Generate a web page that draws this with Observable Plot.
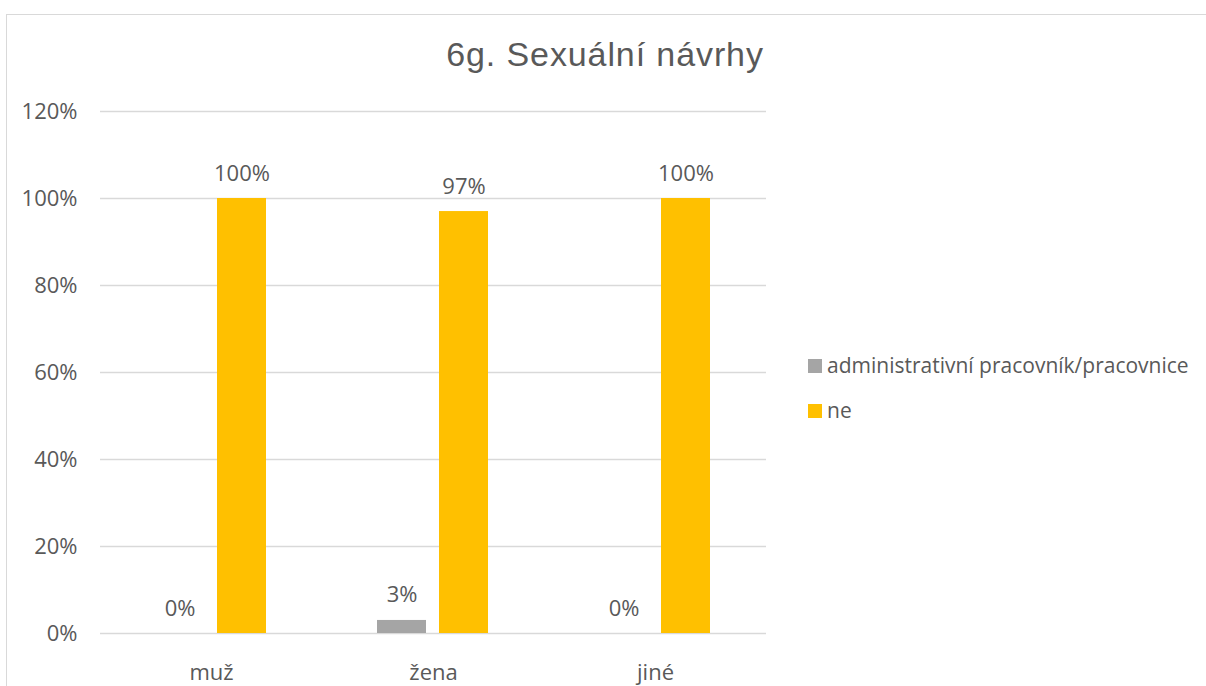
<!DOCTYPE html>
<html>
<head>
<meta charset="utf-8">
<script src="https://cdn.jsdelivr.net/npm/d3@7"></script>
<script src="https://cdn.jsdelivr.net/npm/@observablehq/plot@0.6"></script>
<style>
  html, body { margin: 0; padding: 0; background: #fff; overflow: hidden; }
  #wrap { position: relative; width: 1206px; height: 686px; overflow: hidden; }
  #frame { position: absolute; left: 6px; top: 14px; width: 1400px; height: 900px; border: 1.5px solid #D9D9D9; box-sizing: border-box; }
  #chart { position: absolute; left: 0; top: 0; }
  #overlay { position: absolute; left: 0; top: 0; pointer-events: none; }
</style>
</head>
<body>
<div id="wrap">
  <div id="frame"></div>
  <div id="chart"></div>
  <svg id="overlay" width="1206" height="686"></svg>
</div>
<script>
const title = "6g. Sexuální návrhy";
const categories = ["muž", "žena", "jiné"];
const series = ["administrativní pracovník/pracovnice", "ne"];
const colors = ["#A5A5A5", "#FFC000"];
const adminValues = [0, 0.03, 0];
const neValues = [1.00, 0.97, 1.00];
const yTicks = [0, 0.2, 0.4, 0.6, 0.8, 1.0, 1.2];

const data = [];
categories.forEach((c, i) => {
  data.push({cat: c, series: series[0], value: adminValues[i]});
  data.push({cat: c, series: series[1], value: neValues[i]});
});

const pct = d3.format(".0%");
const FONT = "Open Sans, sans-serif";
const TXT = "#595959";

const chart = Plot.plot({
  width: 1206,
  height: 686,
  marginLeft: 100,
  marginRight: 440,
  marginTop: 111,
  marginBottom: 53,
  style: {fontFamily: FONT, fontSize: "22px", color: TXT, background: "transparent"},
  fx: {domain: categories, padding: 0, axis: "bottom", tickSize: 0, tickPadding: 31, label: null, fontSize: 21},
  x: {domain: series, paddingInner: 0.206, paddingOuter: 0.865, axis: null},
  y: {domain: [0, 1.2], ticks: yTicks, tickFormat: pct, tickSize: 0, tickPadding: 23, label: null},
  color: {domain: series, range: colors},
  marks: [
    Plot.ruleY(yTicks, {stroke: "#D9D9D9", strokeWidth: 1.4}),
    Plot.barY(data, {fx: "cat", x: "series", y: "value", fill: "series"}),
    Plot.text(data, {fx: "cat", x: "series", y: "value", text: d => pct(d.value), dy: -25, fill: TXT, fontSize: 22})
  ]
});
document.getElementById("chart").appendChild(chart);

// Title and legend overlay
const ov = d3.select("#overlay");
ov.append("text")
  .attr("x", 605).attr("y", 66)
  .attr("text-anchor", "middle")
  .attr("font-family", "Liberation Sans, Arial, sans-serif")
  .attr("font-size", 34)
  .attr("letter-spacing", "0.9px")
  .attr("fill", TXT)
  .text(title);

const lg = ov.append("g").attr("transform", "translate(808,0)");
series.forEach((s, i) => {
  const cy = 366 + i * 45;
  lg.append("rect").attr("x", 0).attr("y", cy - 7).attr("width", 14).attr("height", 14).attr("fill", colors[i]);
  lg.append("text").attr("x", 19).attr("y", cy + 7)
    .attr("font-family", FONT).attr("font-size", 21).attr("fill", TXT).text(s);
});
</script>
</body>
</html>
